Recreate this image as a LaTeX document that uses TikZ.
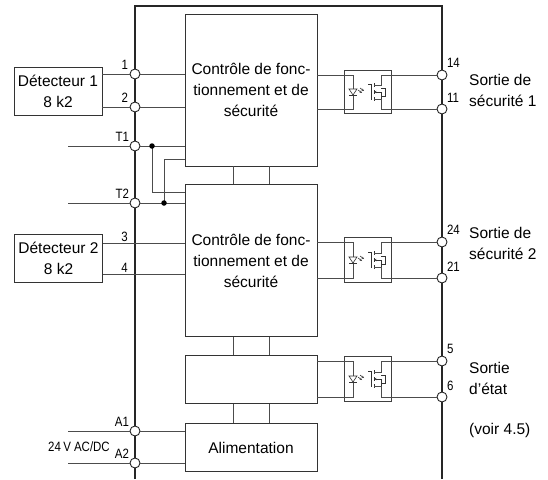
\documentclass[tikz,border=0pt]{standalone}
\usepackage{fontspec}
\setmainfont{Liberation Sans}
\newfontfamily\narrowfont{Liberation Sans}[FakeStretch=0.85]
\usetikzlibrary{positioning}
\usetikzlibrary{arrows.meta}

\begin{document}
\begin{tikzpicture}[
  x=1pt, y=-1pt,
  >={Stealth[length=2.5pt,width=2.2pt]},
  wire/.style = {draw=black!70, line width=0.8pt},
  fine/.style = {draw=black!80, line width=0.6pt},
  frame/.style = {draw=black!85, line width=2.6pt},
  block/.style = {draw=black!80, line width=0.9pt, minimum width=132pt,
    inner sep=0pt, align=center, font=\fontsize{15.5}{21}\selectfont},
  sensor/.style = {block, minimum width=88pt, minimum height=48pt},
  term/.style = {circle, draw=black!85, fill=white, line width=0.9pt,
    minimum size=10pt, inner sep=0pt},
  junct/.style = {circle, fill=black, minimum size=5.5pt, inner sep=0pt},
  optobox/.style = {draw=black!75, line width=0.8pt, minimum width=47pt, inner sep=0pt},
  lbl/.style = {font=\narrowfont\fontsize{13.5}{14}\selectfont, inner sep=0pt},
  txt/.style = {font=\fontsize{15.5}{21}\selectfont, align=left, inner sep=0pt, anchor=west}
]
  \useasboundingbox (0,0) rectangle (548,479);

  % housing
  \draw[frame] (135,479) -- (135,6) -- (442,6) -- (442,479);

  % function blocks
  \node[block, minimum height=152pt] (ctrl1) at (251,90)
    {Contrôle de fonc-\\tionnement et de\\sécurité};
  \node[block, minimum height=152pt, below=18pt of ctrl1] (ctrl2)
    {Contrôle de fonc-\\tionnement et de\\sécurité};
  \node[block, minimum height=48pt, below=18pt of ctrl2] (state) {};
  \node[block, minimum height=48pt, below=19pt of state] (power) {Alimentation};

  \foreach \a/\b in {ctrl1/ctrl2, ctrl2/state, state/power}
    \draw[wire] ([xshift=-18pt]\a.south) -- ([xshift=-18pt]\b.north)
                ([xshift=18pt]\a.south) -- ([xshift=18pt]\b.north);

  % sensors
  \node[sensor] (det1) at (58,91) {Détecteur 1\\8 k2};
  \node[sensor] (det2) at (58.5,258) {Détecteur 2\\8 k2};

  % input terminals
  \node[term] (t1) at (135,74) {};
  \node[term] (t2) at (135,107) {};
  \node[term] (tT1) at (135,146) {};
  \node[term] (tT2) at (135,203) {};
  \coordinate (t3) at (135,243);
  \coordinate (t4) at (135,274);
  \node[term] (tA1) at (135,431) {};
  \node[term] (tA2) at (135,463) {};

  \coordinate (inT1) at (68,146);
  \coordinate (inT2) at (68,203);
  \coordinate (inA1) at (68,431);
  \coordinate (inA2) at (68,463);

  \draw[wire] (det1.east |- t1) -- (t1) -- (ctrl1.west |- t1);
  \draw[wire] (det1.east |- t2) -- (t2) -- (ctrl1.west |- t2);
  \draw[wire] (inT1) -- (tT1) -- (ctrl1.west |- tT1);
  \draw[wire] (inT2) -- (tT2) -- (ctrl2.west |- tT2);
  \draw[wire] (det2.east |- t3) -- (ctrl2.west |- t3);
  \draw[wire] (det2.east |- t4) -- (ctrl2.west |- t4);
  \draw[wire] (inA1) -- (tA1) -- (power.west |- tA1);
  \draw[wire] (inA2) -- (tA2) -- (power.west |- tA2);

  % cross links T1 / T2
  \coordinate (j1) at (152,146);
  \coordinate (j2) at (164,203);
  \draw[wire] (j1) |- ([yshift=-8pt]ctrl2.north west);
  \draw[wire] (j2) |- ([yshift=7pt]ctrl1.south west);
  \node[junct] at (j1) {};
  \node[junct] at (j2) {};

  \node[lbl, anchor=south east] at ([xshift=-3pt]t1.north west) {1};
  \node[lbl, anchor=south east] at ([xshift=-3pt]t2.north west) {2};
  \node[lbl, anchor=south east] at ([xshift=-2pt]tT1.north west) {T1};
  \node[lbl, anchor=south east] at ([xshift=-2pt]tT2.north west) {T2};
  \node[lbl, anchor=south east] at ([xshift=-7pt,yshift=1.5pt]t3) {3};
  \node[lbl, anchor=south east] at ([xshift=-7pt,yshift=1.5pt]t4) {4};
  \node[lbl, anchor=south east] at ([xshift=-2pt]tA1.north west) {A1};
  \node[lbl, anchor=south east] at ([xshift=-2pt]tA2.north west) {A2};
  \node[lbl, anchor=east] (supply) at (110,447) {24\,V AC/DC};

  % output stages
  \foreach \ya/\yb/\n/\src/\la/\lb in
      {75/109/1/ctrl1/14/11, 242/278/2/ctrl2/24/21, 361/397/3/state/5/6} {
    \pgfmathsetmacro\ym{(\ya+\yb)/2}
    \pgfmathsetmacro\h{\yb-\ya+9}
    \node[optobox, minimum height=\h pt] (opto\n) at (367.5,\ym) {};
    \node[term] (oa\n) at (442,\ya) {};
    \node[term] (ob\n) at (442,\yb) {};
    % led
    \draw[wire] (\src.east |- oa\n) -- (353,\ya) -- (353,\yb) -- (\src.east |- ob\n);
    \draw[fine, fill=white] (349,\ym-3) -- (357,\ym-3) -- (353,\ym+3) -- cycle;
    \draw[fine] (349,\ym+3) -- (357,\ym+3);
    \draw[fine, ->] (358,\ym-2) -- (362,\ym+1);
    \draw[fine, ->] (360,\ym-4) -- (364,\ym-1);
    % switch
    \draw[fine] (368,\ym-8) -- (371,\ym-8) -- (371,\ym+8);
    \draw[fine] (374,\ym-9) -- (374,\ym-5) (374,\ym-2) -- (374,\ym+2)
                (374,\ym+5) -- (374,\ym+9);
    \draw[wire] (374,\ym-7) -- (381,\ym-7) -- (381,\ya) -- (oa\n);
    \draw[wire] (374,\ym+7) -- (381,\ym+7) -- (381,\yb) -- (ob\n);
    \draw[fine, <-] (374,\ym) -- (381,\ym) -- (381,\ym+7);
    \draw[fine] (381,\ym-4) -- (385,\ym-4) -- (385,\ym+4) -- (381,\ym+4);
    \node[lbl, anchor=south west] at ([xshift=1pt,yshift=3pt]oa\n.north east) {\la};
    \node[lbl, anchor=south west] at ([xshift=1pt,yshift=2pt]ob\n.north east) {\lb};
  }

  \node[txt] (out1) at (469,90) {Sortie de\\sécurité 1};
  \node[txt] (out2) at (469,243) {Sortie de\\sécurité 2};
  \node[txt] (out3) at (469,378) {Sortie\\d’état};
  \node[txt] (note) at (469,430) {(voir 4.5)};

\end{tikzpicture}
\end{document}
